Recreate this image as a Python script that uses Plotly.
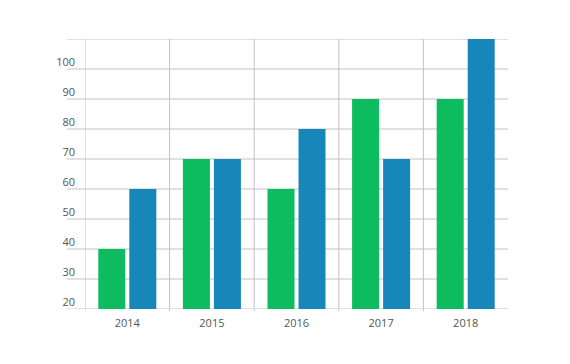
import plotly.graph_objects as go

years = ["2014", "2015", "2016", "2017", "2018"]
green_vals = [40, 70, 60, 90, 90]
blue_vals = [60, 70, 80, 70, 110]
y_ticks = [20, 30, 40, 50, 60, 70, 80, 90, 100]
y_grid = [20, 30, 40, 50, 60, 70, 80, 90, 100, 110]

GREEN = "#0DBC5E"
BLUE = "#1787BA"
GRID = "#C2C2C2"
TEXT = "#555555"

x_idx = list(range(len(years)))

fig = go.Figure()
fig.add_trace(go.Bar(x=x_idx, y=green_vals, marker=dict(color=GREEN, line=dict(width=0)), name="A"))
fig.add_trace(go.Bar(x=x_idx, y=blue_vals, marker=dict(color=BLUE, line=dict(width=0)), name="B"))

shapes = []
for v in y_grid:
    shapes.append(dict(type="line", xref="paper", yref="y", x0=-0.0426, x1=1, y0=v, y1=v,
                       line=dict(color=GRID, width=1), layer="below"))
for i in x_idx:
    shapes.append(dict(type="line", xref="x", yref="paper", x0=i - 0.5, x1=i - 0.5, y0=-0.007, y1=1,
                       line=dict(color=GRID, width=1), layer="below"))

fig.update_layout(
    template="none",
    width=562, height=356,
    margin=dict(l=77, r=62, t=31, b=55, autoexpand=False),
    paper_bgcolor="white", plot_bgcolor="white",
    showlegend=False,
    barmode="group", bargap=0.267, bargroupgap=0.129,
    shapes=shapes,
    font=dict(family="Open Sans", size=11, color=TEXT),
    xaxis=dict(range=[-0.5, 4.5], tickvals=x_idx, ticktext=years, showgrid=False, zeroline=False,
               showline=False, ticks="", ticklabelstandoff=6, automargin=False,
               tickfont=dict(family="Open Sans", size=11, color=TEXT)),
    yaxis=dict(range=[20, 110], tickvals=y_ticks, showgrid=False, zeroline=False, showline=False,
               ticks="", ticklabelstandoff=9, ticklabelshift=-7, automargin=False,
               tickfont=dict(family="Open Sans", size=11, color=TEXT)),
)

fig.write_html("out.html")
